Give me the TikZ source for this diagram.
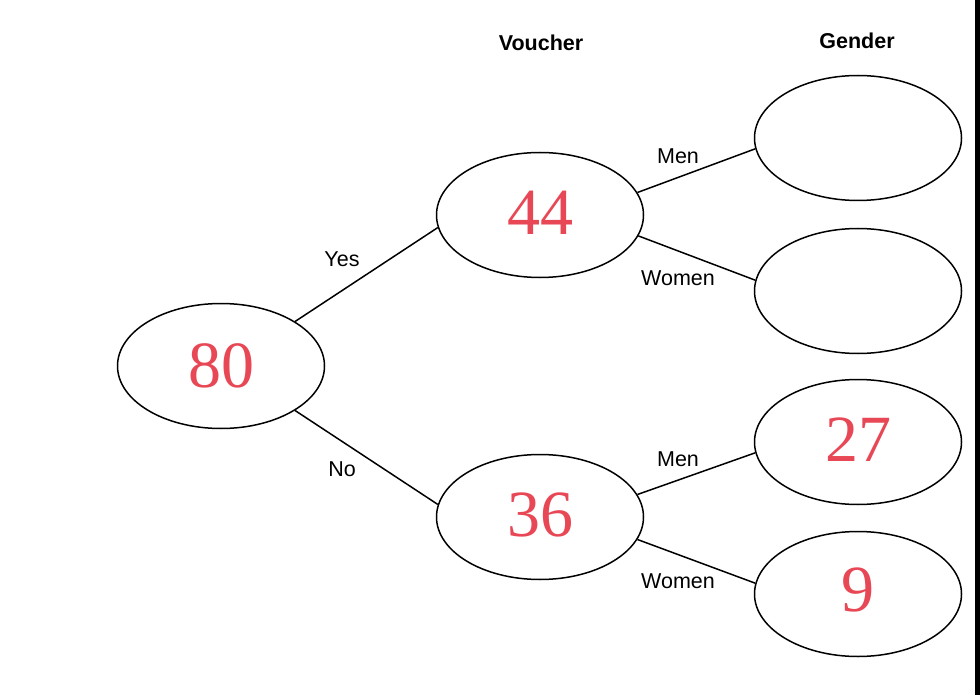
\documentclass[tikz,border=0pt]{standalone}
\usepackage{fontspec}
\setmainfont{Liberation Serif}
\newfontfamily\arial{Liberation Sans}
\usetikzlibrary{shapes.geometric}
\definecolor{numred}{RGB}{232,72,85}
\tikzset{
  oval/.style={ellipse, draw=black, line width=1.5pt, minimum width=207pt, minimum height=125pt, inner sep=0pt},
  num/.style={text=numred, font=\fontsize{66}{66}\selectfont},
  lab/.style={font=\arial\fontsize{21.5}{21.5}\selectfont, inner sep=0pt},
  head/.style={font=\arial\bfseries\fontsize{21.5}{21.5}\selectfont, inner sep=0pt},
  conn/.style={line width=1.5pt}
}
\begin{document}
\begin{tikzpicture}[x=1pt,y=-1pt]
\useasboundingbox (0,0) rectangle (980,695);
\fill[white] (0,0) rectangle (980,695);
\fill[black] (975,0) rectangle (980,695);
\node[oval] (root) at (221,366) {};
\node[num] at (221,366) {80};
\node[oval] (v44) at (540,215) {};
\node[num] at (540,213) {44};
\node[oval] (v36) at (540,517) {};
\node[num] at (540,515) {36};
\node[oval] (g1) at (858,138) {};
\node[oval] (g2) at (858,291) {};
\node[oval] (g3) at (858,442) {};
\node[num] at (858,440) {27};
\node[oval] (g4) at (858,594) {};
\node[num] at (858,590) {9};
\node[head] (hv) at (541,43) {Voucher};
\node[head] (hg) at (857,41) {Gender};
\draw[conn] (root.31) -- (v44.187);
\draw[conn] (root.-31) -- (v36.173);
\draw[conn] (v44.13) -- (g1.186);
\draw[conn] (v44.-12) -- (g2.174);
\draw[conn] (v36.13) -- (g3.186);
\draw[conn] (v36.-13) -- (g4.174);
\node[lab] (lyes) at (342,259) {Yes};
\node[lab] (lno) at (342,469) {No};
\node[lab] (lm1) at (678,156) {Men};
\node[lab] (lw1) at (678,278) {Women};
\node[lab] (lm2) at (678,459) {Men};
\node[lab] (lw2) at (678,581) {Women};
\end{tikzpicture}
\end{document}
